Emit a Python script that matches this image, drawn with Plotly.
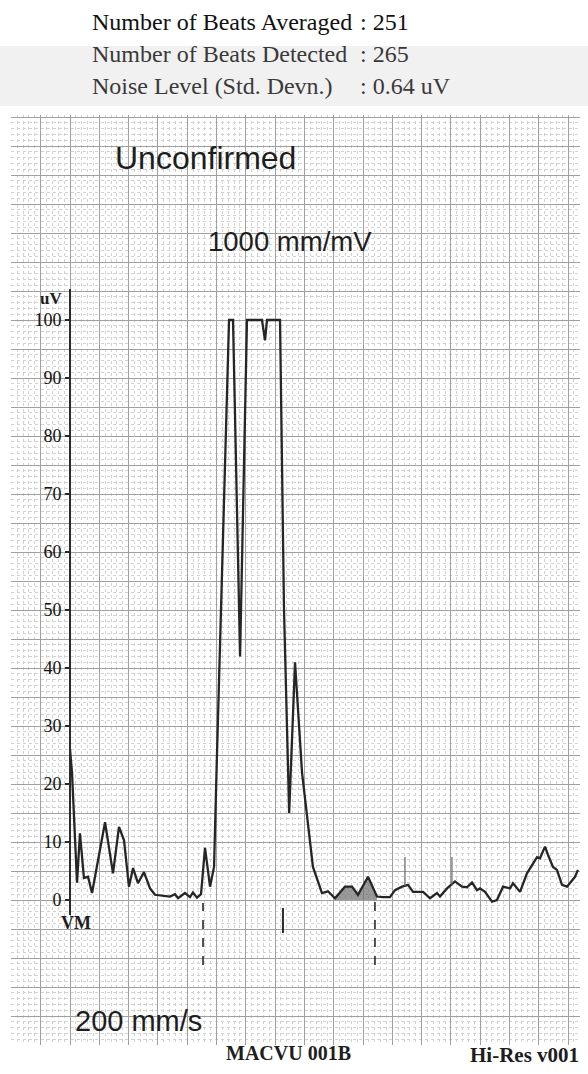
import plotly.graph_objects as go

# ---------------- data (time in ms from the VM marker, amplitude in uV) ----------------
t_ms = [0.0, 1.7, 6.0, 8.5, 11.9, 15.4, 18.8, 25.6, 29.9, 36.7, 41.8, 46.1, 50.3, 53.8,
        58.0, 63.1, 68.3, 72.5, 78.5, 85.3, 89.6, 92.2, 98.1, 102.4, 104.9, 108.4, 111.8,
        115.2, 119.5, 122.9, 125.4, 128.8, 135.7, 139.1, 145.1, 151.0, 163.8, 166.4, 168.1,
        179.2, 182.6, 187.0, 192.0, 198.0, 202.2, 204.8, 207.3, 215.0, 220.1, 226.1, 234.6,
        240.6, 245.7, 254.3, 261.9, 267.1, 273.0, 277.3, 283.3, 288.4, 292.7, 301.2, 307.2,
        313.1, 315.7, 321.7, 328.5, 334.5, 338.7, 343.0, 347.3, 349.8, 354.1, 360.1, 364.3,
        369.5, 375.4, 378.0, 384.0, 389.9, 398.5, 401.0, 405.3, 407.8, 412.1, 415.5, 419.8,
        424.1, 428.3, 430.9, 433.4]
amp_uv = [26.0, 22.0, 3.0, 11.5, 3.8, 4.0, 1.2, 8.6, 13.4, 4.6, 12.6, 10.3, 2.3, 5.5,
          2.9, 4.8, 2.0, 0.9, 0.8, 0.6, 1.0, 0.3, 1.2, 0.5, 1.3, 0.4, 1.0,
          9.0, 2.3, 5.7, 25.0, 50.0, 100.0, 100.0, 42.0, 100.0, 100.0, 96.5, 100.0,
          100.0, 50.0, 15.0, 41.0, 21.9, 14.3, 9.8, 5.7, 1.2, 1.5, 0.3, 2.3,
          2.3, 0.9, 4.0, 0.6, 0.5, 0.5, 1.7, 2.3, 2.6, 1.4, 1.4, 0.3,
          1.2, 0.6, 2.0, 3.2, 2.3, 2.2, 3.0, 1.7, 2.0, 1.4, -0.3, 0.0,
          2.3, 2.0, 2.9, 1.4, 4.6, 7.4, 7.2, 9.2, 7.8, 5.7, 5.2, 2.6,
          2.3, 3.4, 4.0, 5.2]

shade_from_ms = 226.0
shade_to_ms = 262.0

qrs_onset_ms = 113.5
qrs_offset_ms = 260.2
marker_ms = 181.7
small_marks_ms = [285.8, 325.9]

y_tick_vals = [0, 10, 20, 30, 40, 50, 60, 70, 80, 90, 100]
y_tick_text = [str(v) for v in y_tick_vals]

header_labels = ["Number of Beats Averaged", "Number of Beats Detected",
                 "Noise Level (Std. Devn.)"]
header_values = [": 251", ": 265", ": 0.64 uV"]

# ---------------- layout geometry ----------------
W, H = 588, 1074
ML, MR, MT, MB = 11, 8, 115, 29
PX_PER_MS = 1.172
AXIS_PX = 70
ZERO_PY = 900
PX_PER_UV = 5.8

x_left = (ML - AXIS_PX) / PX_PER_MS
x_right = (W - MR - AXIS_PX) / PX_PER_MS
y_bot = -(H - MB - ZERO_PY) / PX_PER_UV
y_top = (ZERO_PY - MT) / PX_PER_UV


def xd(px):
    return (px - AXIS_PX) / PX_PER_MS


def yd(py):
    return (ZERO_PY - py) / PX_PER_UV


def xp(px):
    return (px - ML) / (W - ML - MR)


def yp(py):
    return (H - MB - py) / (H - MT - MB)


fig = go.Figure()

# shaded region under the late potential segment
sx = [t for t in t_ms if shade_from_ms <= t <= shade_to_ms]
sy = [a for t, a in zip(t_ms, amp_uv) if shade_from_ms <= t <= shade_to_ms]
fig.add_trace(go.Scatter(x=sx, y=sy, mode="lines", line=dict(width=0),
                         fill="tozeroy", fillcolor="rgba(110,110,110,0.7)",
                         hoverinfo="skip", showlegend=False))

fig.add_trace(go.Scatter(x=t_ms, y=amp_uv, mode="lines",
                         line=dict(color="#262626", width=2.3),
                         showlegend=False, cliponaxis=False))

# tick labels on a free axis at the VM line
fig.add_trace(go.Scatter(x=[0], y=[0], yaxis="y2", mode="markers",
                         marker=dict(opacity=0), hoverinfo="skip", showlegend=False))

shapes = []
# light scan band behind the header
shapes.append(dict(type="rect", xref="paper", yref="paper", x0=xp(0), x1=xp(W),
                   y0=yp(106), y1=yp(46), fillcolor="#f1f1f1", line=dict(width=0),
                   layer="below"))
# white label boxes over the grid
for (x0, x1, y0, y1) in [(98, 312, 132, 188), (176, 416, 212, 270), (43, 240, 986, 1045),
                         (575, 588, 115, 1045)]:
    shapes.append(dict(type="rect", xref="paper", yref="paper", x0=xp(x0), x1=xp(x1),
                       y0=yp(y1), y1=yp(y0), fillcolor="white", line=dict(width=0),
                       layer="between"))
# VM axis line
shapes.append(dict(type="line", xref="x", yref="y", x0=0, x1=0, y0=yd(915), y1=yd(289),
                   line=dict(color="#2a2a2a", width=2)))
# QRS onset/offset dashed markers
for t in [qrs_onset_ms, qrs_offset_ms]:
    shapes.append(dict(type="line", xref="x", yref="y", x0=t, x1=t, y0=yd(965),
                       y1=yd(903 if t == qrs_onset_ms else 898),
                       line=dict(color="#2a2a2a", width=1.6, dash="dash")))
shapes.append(dict(type="line", xref="x", yref="y", x0=marker_ms, x1=marker_ms,
                   y0=yd(933), y1=yd(908), line=dict(color="#2a2a2a", width=2)))
for t in small_marks_ms:
    shapes.append(dict(type="line", xref="x", yref="y", x0=t, x1=t,
                       y0=yd(886), y1=yd(857), line=dict(color="#666666", width=1.2)))

serif = "Liberation Serif, Times New Roman, serif"
sans = "Liberation Sans, Arial, sans-serif"

annotations = []
header_y = [22, 54, 86]
header_col = ["#111111", "#3a3a3a", "#3a3a3a"]
for lab, val, py, col in zip(header_labels, header_values, header_y, header_col):
    annotations.append(dict(text=lab, x=xp(90), y=yp(py), xref="paper", yref="paper",
                            xanchor="left", yanchor="middle", showarrow=False,
                            font=dict(family=serif, size=24, color=col)))
    annotations.append(dict(text=val, x=xp(358), y=yp(py), xref="paper", yref="paper",
                            xanchor="left", yanchor="middle", showarrow=False,
                            font=dict(family=serif, size=24, color=col)))
annotations += [
    dict(text="Unconfirmed", x=xp(113), y=yp(158), xref="paper", yref="paper",
         xanchor="left", yanchor="middle", showarrow=False,
         font=dict(family=sans, size=32, color="#1e1e1e")),
    dict(text="1000 mm/mV", x=xp(206), y=yp(241), xref="paper", yref="paper",
         xanchor="left", yanchor="middle", showarrow=False,
         font=dict(family=sans, size=27.5, color="#1e1e1e")),
    dict(text="200 mm/s", x=xp(73), y=yp(1021), xref="paper", yref="paper",
         xanchor="left", yanchor="middle", showarrow=False,
         font=dict(family=sans, size=29, color="#1e1e1e")),
    dict(text="<b>uV</b>", x=xp(51), y=yp(298), xref="paper", yref="paper",
         xanchor="center", yanchor="middle", showarrow=False,
         font=dict(family=serif, size=17, color="#1e1e1e")),
    dict(text="<b>VM</b>", x=xp(76), y=yp(923), xref="paper", yref="paper",
         xanchor="center", yanchor="middle", showarrow=False,
         font=dict(family=serif, size=18, color="#1e1e1e")),
    dict(text="<b>MACVU 001B</b>", x=xp(288), y=yp(1053), xref="paper", yref="paper",
         xanchor="center", yanchor="middle", showarrow=False,
         font=dict(family=serif, size=20, color="#1e1e1e")),
    dict(text="<b>Hi-Res v001</b>", x=xp(524), y=yp(1055), xref="paper", yref="paper",
         xanchor="center", yanchor="middle", showarrow=False,
         font=dict(family=serif, size=21, color="#1e1e1e")),
]

fig.update_layout(
    width=W, height=H,
    margin=dict(l=ML, r=MR, t=MT, b=MB, pad=0),
    paper_bgcolor="white", plot_bgcolor="white",
    showlegend=False,
    xaxis=dict(range=[x_left, x_right], tick0=0, dtick=25, showgrid=True,
               gridcolor="#a0a0a0", gridwidth=1, zeroline=False, showticklabels=False,
               ticks="", showline=False, fixedrange=True,
               minor=dict(dtick=5, tick0=0, showgrid=True, gridcolor="#d2d2d2",
                          griddash="dot", gridwidth=1)),
    yaxis=dict(range=[y_bot, y_top], tick0=0, dtick=5, showgrid=True,
               gridcolor="#a0a0a0", gridwidth=1, zeroline=False, showticklabels=False,
               ticks="", showline=False, fixedrange=True,
               minor=dict(dtick=1, tick0=0, showgrid=True, gridcolor="#d2d2d2",
                          griddash="dot", gridwidth=1)),
    yaxis2=dict(range=[y_bot, y_top], overlaying="y", anchor="free",
                position=xp(AXIS_PX), side="left", showgrid=False, zeroline=False,
                tickvals=y_tick_vals, ticktext=y_tick_text, ticks="outside",
                ticklen=5, tickwidth=1.5, tickcolor="#2a2a2a", showline=False,
                tickfont=dict(family=serif, size=18, color="#111111"),
                fixedrange=True),
    shapes=shapes,
    annotations=annotations,
)

fig.write_html("out.html", config={"displayModeBar": False},
               post_script="document.body.style.margin='0';document.body.style.overflow='hidden';")
